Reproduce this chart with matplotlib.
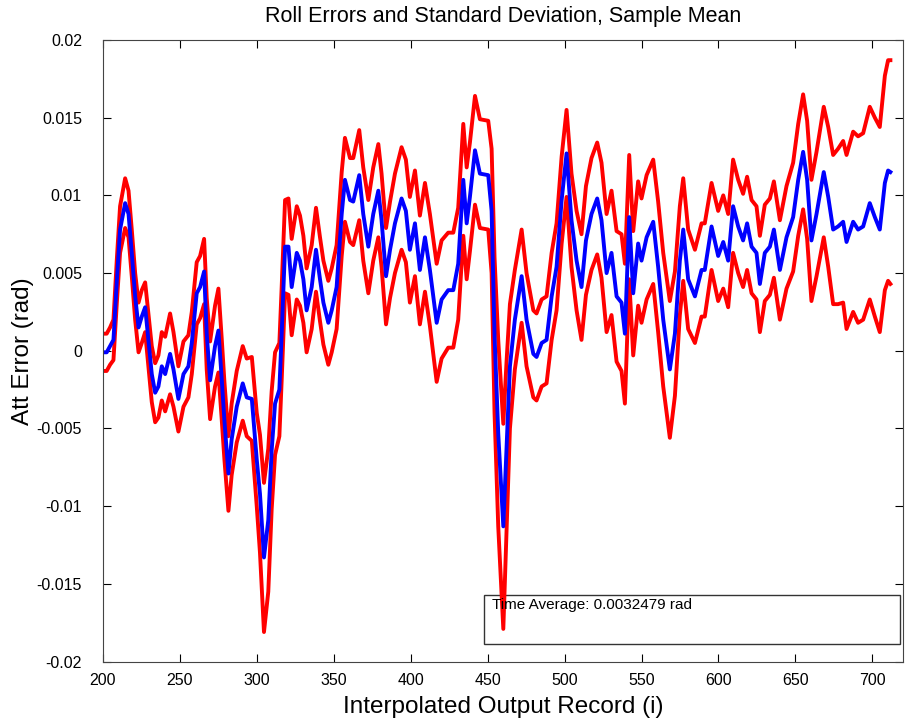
import numpy as np
import matplotlib.pyplot as plt
from matplotlib.patches import Rectangle
from matplotlib.ticker import FuncFormatter

plt.rcParams['font.family'] = ['Liberation Sans', 'DejaVu Sans']

# record index
rec = [200.0, 202.5, 204.7, 206.9, 209.1, 211.2, 214.5, 216.7, 218.8, 221.0,
       223.2, 225.3, 227.5, 229.6, 231.8, 234.0, 236.1, 238.3, 240.5, 243.7,
       245.9, 249.1, 252.4, 255.6, 257.8, 261.0, 263.2, 265.8, 267.5, 269.7,
       272.9, 275.1, 277.3, 279.0, 281.6, 283.7, 287.0, 290.9, 293.5, 296.8,
       300.0, 302.1, 304.7, 307.5, 309.7, 311.9, 314.7, 316.2, 318.4, 320.6,
       322.7, 326.0, 328.1, 330.3, 332.4, 335.7, 338.5, 341.1, 343.3, 346.5,
       348.7, 351.9, 355.2, 357.3, 360.6, 362.7, 366.6, 369.2, 372.5, 375.7,
       379.0, 381.1, 384.0, 386.6, 389.8, 394.1, 396.9, 399.5, 402.8, 406.0,
       409.3, 412.5, 416.9, 420.1, 424.4, 427.7, 430.9, 434.2, 436.4, 438.5,
       441.8, 445.0, 450.4, 452.6, 454.5, 456.9, 460.2, 462.3, 464.5, 467.7,
       472.1, 475.3, 479.7, 481.8, 485.1, 488.3, 491.6, 494.8, 498.1, 501.3,
       504.5, 507.8, 511.0, 513.9, 517.5, 521.2, 524.0, 527.3, 530.5, 533.8,
       537.0, 539.2, 542.0, 544.6, 547.8, 550.0, 553.3, 557.6, 560.8, 564.1,
       568.4, 571.7, 574.9, 577.1, 580.3, 584.7, 589.0, 591.1, 595.5, 599.8,
       603.1, 606.3, 609.5, 612.8, 616.0, 618.6, 621.5, 624.7, 626.9, 630.1,
       633.4, 636.0, 639.9, 644.2, 648.5, 651.8, 655.0, 657.6, 660.4, 663.7,
       668.4, 671.3, 674.5, 677.7, 681.0, 683.2, 687.5, 690.7, 694.0, 698.3,
       701.6, 704.8, 708.1, 710.2, 711.7]

# sample mean of roll error (rad)
mean_err = [-0.0001, -0.0001, 0.0003, 0.0007, 0.0045, 0.0078, 0.0095, 0.0088, 0.0063, 0.0035,
            0.0015, 0.0022, 0.0028, 0.0007, -0.0015, -0.0027, -0.0023, -0.0010, -0.0015, -0.0002,
            -0.0012, -0.0031, -0.0015, -0.0010, 0.0005, 0.0037, 0.0041, 0.0051, 0.0011, -0.0019,
            0.0003, 0.0013, -0.0019, -0.0045, -0.0079, -0.0057, -0.0036, -0.0021, -0.0030, -0.0031,
            -0.0070, -0.0092, -0.0133, -0.0109, -0.0064, -0.0034, -0.0025, 0.0011, 0.0067, 0.0067,
            0.0041, 0.0063, 0.0058, 0.0046, 0.0026, 0.0041, 0.0065, 0.0046, 0.0031, 0.0018,
            0.0026, 0.0041, 0.0088, 0.0110, 0.0097, 0.0096, 0.0113, 0.0088, 0.0067, 0.0088,
            0.0103, 0.0084, 0.0048, 0.0065, 0.0082, 0.0098, 0.0090, 0.0065, 0.0082, 0.0052,
            0.0073, 0.0052, 0.0018, 0.0033, 0.0039, 0.0039, 0.0056, 0.0110, 0.0082, 0.0099,
            0.0129, 0.0114, 0.0113, 0.0090, 0.0010, -0.0053, -0.0113, -0.0062, -0.0010, 0.0020,
            0.0048, 0.0020, -0.0002, -0.0004, 0.0005, 0.0007, 0.0035, 0.0054, 0.0097, 0.0127,
            0.0084, 0.0058, 0.0041, 0.0071, 0.0088, 0.0098, 0.0084, 0.0050, 0.0063, 0.0035,
            0.0031, 0.0011, 0.0086, 0.0037, 0.0069, 0.0058, 0.0073, 0.0083, 0.0054, 0.0020,
            -0.0012, 0.0011, 0.0058, 0.0078, 0.0046, 0.0035, 0.0052, 0.0052, 0.0080, 0.0061,
            0.0070, 0.0058, 0.0093, 0.0080, 0.0071, 0.0082, 0.0067, 0.0063, 0.0043, 0.0063,
            0.0067, 0.0078, 0.0052, 0.0073, 0.0086, 0.0110, 0.0128, 0.0110, 0.0071, 0.0088,
            0.0115, 0.0099, 0.0078, 0.0080, 0.0083, 0.0070, 0.0083, 0.0078, 0.0080, 0.0095,
            0.0086, 0.0078, 0.0108, 0.0116, 0.0115]

# standard deviation (rad)
std_err = [0.0012, 0.0012, 0.0012, 0.0013, 0.0014, 0.0015, 0.0016, 0.0015, 0.0015, 0.0015,
           0.0016, 0.0017, 0.0016, 0.0017, 0.0018, 0.0019, 0.0020, 0.0022, 0.0024, 0.0026,
           0.0024, 0.0021, 0.0021, 0.0020, 0.0020, 0.0020, 0.0020, 0.0021, 0.0023, 0.0025,
           0.0026, 0.0027, 0.0026, 0.0025, 0.0024, 0.0023, 0.0023, 0.0024, 0.0025, 0.0027,
           0.0030, 0.0038, 0.0048, 0.0046, 0.0038, 0.0033, 0.0030, 0.0030, 0.0030, 0.0031,
           0.0031, 0.0030, 0.0029, 0.0028, 0.0027, 0.0027, 0.0027, 0.0027, 0.0027, 0.0027,
           0.0027, 0.0027, 0.0027, 0.0027, 0.0027, 0.0028, 0.0029, 0.0030, 0.0030, 0.0030,
           0.0030, 0.0030, 0.0031, 0.0031, 0.0032, 0.0033, 0.0033, 0.0034, 0.0034, 0.0035,
           0.0035, 0.0036, 0.0038, 0.0038, 0.0037, 0.0037, 0.0036, 0.0036, 0.0036, 0.0035,
           0.0035, 0.0035, 0.0035, 0.0040, 0.0050, 0.0060, 0.0066, 0.0055, 0.0040, 0.0032,
           0.0030, 0.0030, 0.0028, 0.0028, 0.0028, 0.0028, 0.0028, 0.0028, 0.0028, 0.0028,
           0.0030, 0.0032, 0.0034, 0.0035, 0.0036, 0.0036, 0.0037, 0.0038, 0.0040, 0.0042,
           0.0044, 0.0045, 0.0040, 0.0040, 0.0040, 0.0040, 0.0040, 0.0040, 0.0042, 0.0043,
           0.0044, 0.0040, 0.0035, 0.0033, 0.0032, 0.0030, 0.0030, 0.0030, 0.0028, 0.0029,
           0.0030, 0.0030, 0.0030, 0.0030, 0.0030, 0.0030, 0.0030, 0.0030, 0.0031, 0.0031,
           0.0031, 0.0031, 0.0032, 0.0033, 0.0035, 0.0036, 0.0037, 0.0038, 0.0039, 0.0040,
           0.0042, 0.0045, 0.0048, 0.0050, 0.0052, 0.0056, 0.0058, 0.0060, 0.0060, 0.0062,
           0.0064, 0.0066, 0.0069, 0.0071, 0.0072]

time_avg = 0.0032479

x = np.array(rec)
m = np.array(mean_err)
s = np.array(std_err)

fig = plt.figure(figsize=(9.1, 7.23), dpi=100)
ax = fig.add_axes([0.113, 0.085, 0.8795, 0.8597])

ax.plot(x, m + s, color='#ff0000', lw=2.8)
ax.plot(x, m - s, color='#ff0000', lw=2.8)
ax.plot(x, m, color='#0000ff', lw=2.8)

ax.set_xlim(200, 720)
ax.set_ylim(-0.02, 0.02)
ax.set_xticks(np.arange(200, 701, 50))
ax.set_yticks(np.arange(-0.02, 0.0201, 0.005))
ax.yaxis.set_major_formatter(FuncFormatter(lambda v, p: '%g' % round(v, 4)))
ax.tick_params(direction='in', top=True, right=True, length=6, labelsize=11.5)
ax.tick_params(axis='y', pad=15)
ax.tick_params(axis='x', pad=8)
for sp in ax.spines.values():
    sp.set_color('#444444')

ax.set_title('Roll Errors and Standard Deviation, Sample Mean', fontsize=15.5, pad=13)
ax.set_xlabel('Interpolated Output Record (i)', fontsize=17.5, labelpad=6)
ax.set_ylabel('Att Error (rad)', fontsize=17.5, labelpad=2)

ax.add_patch(Rectangle((0.476, 0.0285), 0.52, 0.079, transform=ax.transAxes,
                       fill=False, edgecolor='#333333', lw=1))
ax.text(0.486, 0.103, 'Time Average: %.7f rad' % time_avg, transform=ax.transAxes,
        fontsize=11, va='top', ha='left')

fig.savefig('out.png', dpi=100)
